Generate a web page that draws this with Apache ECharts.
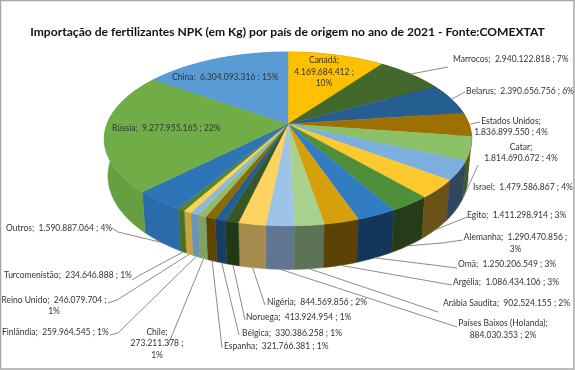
<!DOCTYPE html>
<html>
<head>
<meta charset="utf-8">
<style>html,body{margin:0;padding:0;background:#fff}#chart{width:575px;height:370px}</style>
<script src="https://cdn.jsdelivr.net/npm/echarts@6/dist/echarts.min.js"></script>
</head>
<body>
<div id="chart"></div>
<script>
const countries = ['Canadá', 'Marrocos', 'Belarus', 'Estados Unidos', 'Catar', 'Israel', 'Egito', 'Alemanha', 'Omã', 'Argélia', 'Arábia Saudita', 'Países Baixos (Holanda)', 'Nigéria', 'Noruega', 'Bélgica', 'Espanha', 'Chile', 'Finlândia', 'Reino Unido', 'Turcomenistão', 'Outros', 'Rússia', 'China'];
const kg = [4169684412, 2940122818, 2390656756, 1836899550, 1814690672, 1479586867, 1411298914, 1290470856, 1250206549, 1086434106, 902524155, 884030353, 844569856, 413924954, 330386258, 321766381, 273211378, 259964545, 246079704, 234646888, 1590887064, 9277955165, 6304093316];
const pct = [10, 7, 6, 4, 4, 4, 3, 3, 3, 3, 2, 2, 2, 1, 1, 1, 1, 1, 1, 1, 4, 22, 15];

const topColors = ['#ffc000', '#43682b', '#255e91', '#9e7000', '#8cc168', '#7cafdd', '#fdc92f', '#4f8f3a', '#327dc2', '#d69f0c', '#a9d18e', '#9dc3e6', '#ffd35f', '#385723', '#255e91', '#8c6a00', '#8fbc6e', '#8fb8dc', '#ffd34d', '#548235', '#2e75b6', '#70ad47', '#5b9bd5'];
const wallColors = ['#a67d00', '#2c441c', '#183d5f', '#675500', '#3c5a32', '#30475f', '#6b5216', '#243c17', '#14365a', '#5c4204', '#5d7355', '#5f7590', '#a58c4e', '#1f3a15', '#173f63', '#5e4400', '#7ca360', '#6e93ba', '#c9a33e', '#4d7029', '#2a6cab', '#659f41', '#4f86b8'];

// where each label sits: x, y, align, line breaks, leader points after the rim anchor
const labelSpots = [
  { x: 324, y: 72, align: 'center', wrap: 'all' },
  { x: 453, y: 59, align: 'left', rim: 'top', via: [[448, 67]] },
  { x: 466, y: 91, align: 'left', rim: 'top', via: [[465, 92]] },
  { x: 511, y: 127, align: 'center', wrap: 'name', rim: 'top', via: [[480, 122]] },
  { x: 521, y: 153, align: 'center', wrap: 'name', free: [[463, 198], [478, 165]] },
  { x: 473, y: 187, align: 'left' },
  { x: 467, y: 215, align: 'left', rim: 'bottom', via: [[467, 217]] },
  { x: 515.5, y: 243.5, align: 'center', wrap: 'value', rim: 'bottom', via: [[442, 243], [463, 240]] },
  { x: 458, y: 264, align: 'left', rim: 'bottom', via: [[457, 268]] },
  { x: 453, y: 282, align: 'left', rim: 'bottom', via: [[452, 285]] },
  { x: 443, y: 303, align: 'left', rim: 'bottom', via: [[438, 312]] },
  { x: 503, y: 329.5, align: 'center', wrap: 'name', rim: 'bottom', via: [[457, 327]] },
  { x: 267, y: 302, align: 'left', rim: 'bottom', via: [[265, 305]] },
  { x: 246, y: 317, align: 'left', rim: 'bottom', via: [[245, 320]] },
  { x: 242, y: 333, align: 'left', rim: 'bottom', via: [[239, 335]] },
  { x: 224, y: 346, align: 'left', rim: 'bottom', via: [[222, 348]] },
  { x: 157, y: 343.5, align: 'center', wrap: 'all', rim: 'bottom', via: [[168, 345]] },
  { x: 2, y: 332, align: 'left', rim: 'bottom', via: [[118, 333], [110, 335]] },
  { x: 54, y: 306, align: 'center', wrap: 'value', rim: 'bottom', via: [[117, 300], [108, 303]] },
  { x: 4, y: 275, align: 'left', rim: 'bottom', via: [[140, 275], [132, 280]] },
  { x: 6, y: 228, align: 'left', rim: 'bottom', via: [[118, 232], [112, 228]] },
  { x: 112, y: 128, align: 'left' },
  { x: 172, y: 77, align: 'left' }
];

// perspective of the tilted disc, apex of the pie at cx,cy
const cx = 288, cy = 124, radius = 181, tiltY = 84.4, persp = 0.172, wall = 36, wallShrink = 0.98;

function rim(angle, lower) {
  const sx = Math.sin(angle), cy0 = Math.cos(angle);
  const w = 1 + persp * cy0;
  const x = radius * sx / w, y = -tiltY * cy0 / w;
  if (lower) return [cx + x * wallShrink, cy + y + wall / w];
  return [cx + x, cy + y];
}

const total = kg.reduce((a, b) => a + b, 0);
const slices = [];
let run = 0;
kg.forEach((v) => {
  const start = run / total * Math.PI * 2;
  run += v;
  slices.push({ start, end: run / total * Math.PI * 2 });
});

function arc(s, lower) {
  const n = Math.max(2, Math.ceil((s.end - s.start) / 0.03));
  const pts = [];
  for (let i = 0; i <= n; i++) pts.push(rim(s.start + (s.end - s.start) * i / n, lower));
  return pts;
}

const fmt = (v) => String(v).replace(/\B(?=(\d{3})+$)/g, '.');

function labelText(i) {
  const name = countries[i] + ';', val = fmt(kg[i]), p = pct[i] + '%';
  const wrap = labelSpots[i].wrap;
  if (wrap === 'all') return name + '\n' + val + ' ;\n' + p;
  if (wrap === 'name') return name + '\n' + val + ' ; ' + p;
  if (wrap === 'value') return name + '  ' + val + ' ;\n' + p;
  return name + '  ' + val + ' ; ' + p;
}

function renderWall(params) {
  const s = slices[params.dataIndex];
  const shape = arc(s, false).concat(arc(s, true).reverse());
  return {
    type: 'polygon',
    shape: { points: shape },
    style: { fill: wallColors[params.dataIndex], stroke: wallColors[params.dataIndex], lineWidth: 0.5 }
  };
}

function renderTop(params) {
  const s = slices[params.dataIndex];
  return {
    type: 'polygon',
    shape: { points: [[cx, cy]].concat(arc(s, false)) },
    style: { fill: topColors[params.dataIndex], stroke: topColors[params.dataIndex], lineWidth: 0.4 }
  };
}

function renderLabel(params) {
  const i = params.dataIndex, spot = labelSpots[i], s = slices[i];
  const children = [];
  let pts = null;
  if (spot.free) pts = spot.free;
  else if (spot.rim) pts = [rim((s.start + s.end) / 2, spot.rim === 'bottom')].concat(spot.via);
  if (pts) {
    children.push({
      type: 'polyline',
      shape: { points: pts },
      style: { fill: null, stroke: '#8c8c8c', lineWidth: 1 }
    });
  }
  children.push({
    type: 'text',
    style: {
      x: spot.x, y: spot.y, text: labelText(i),
      align: spot.align, verticalAlign: 'middle',
      fontFamily: 'Lato', fontSize: 8.5, lineHeight: 11.5, fill: '#333333'
    }
  });
  return { type: 'group', children };
}

// back slices first so the walls overlap the right way
const wallOrder = kg.map((v, i) => i).sort((a, b) =>
  Math.cos((slices[b].start + slices[b].end) / 2) - Math.cos((slices[a].start + slices[a].end) / 2) > 0 ? -1 : 1);

const chart = echarts.init(document.getElementById('chart'));
chart.setOption({
  animation: false,
  backgroundColor: '#ffffff',
  title: {
    text: 'Importação de fertilizantes NPK (em Kg) por país de origem no ano de 2021 - Fonte:COMEXTAT',
    left: 'center',
    top: 21,
    textStyle: { fontFamily: 'Lato', fontSize: 12.1, fontWeight: 'bold', color: '#111111' }
  },
  graphic: [{
    type: 'rect',
    shape: { x: 0.5, y: 0.5, width: 573.5, height: 368.5 },
    style: { fill: null, stroke: '#a6a6a6', lineWidth: 1.5 },
    silent: true
  }],
  series: [
    { type: 'custom', coordinateSystem: 'none', data: wallOrder.map((i) => kg[i]),
      renderItem: (params) => renderWall({ dataIndex: wallOrder[params.dataIndex] }) },
    { type: 'custom', coordinateSystem: 'none', data: kg, renderItem: renderTop },
    { type: 'custom', coordinateSystem: 'none', data: kg, renderItem: renderLabel }
  ]
});
</script>
</body>
</html>
